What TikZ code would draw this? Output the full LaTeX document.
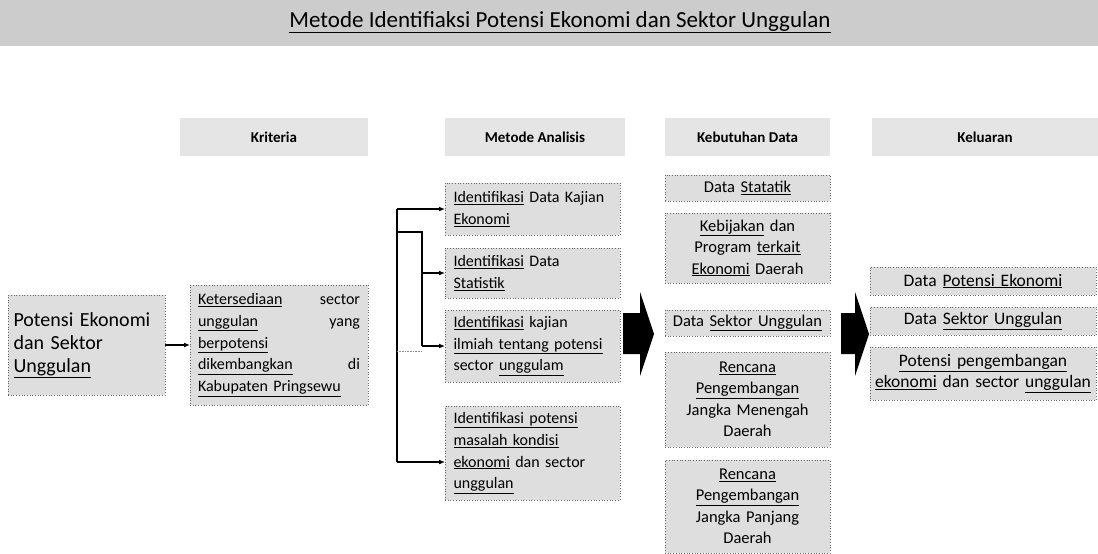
\documentclass[tikz,border=0pt]{standalone}
\usepackage{fontspec}
\setmainfont{Carlito}
\usetikzlibrary{arrows.meta}
\newcommand{\uln}[1]{\underline{#1}}
\definecolor{boxgray}{gray}{0.87}
\definecolor{headgray}{gray}{0.9}
\definecolor{bangray}{gray}{0.8}
\tikzset{
  box/.style={draw=black!60, dotted, line width=0.7pt, fill=boxgray, inner sep=0pt, outer sep=0pt},
  hbox/.style={fill=headgray, inner sep=0pt, outer sep=0pt, font=\bfseries\fontsize{15}{18}\selectfont},
  bodyfont/.style={font=\fontsize{16}{21.7}\selectfont},
  mbox/.style={box, bodyfont, minimum width=175pt, text width=158pt, align=left},
  kbox/.style={box, font=\fontsize{16.5}{21.5}\selectfont, minimum width=165pt, text width=160pt, align=center},
  obox/.style={box, font=\fontsize{17.5}{21}\selectfont, minimum width=226pt, text width=222pt, align=center},
  bline/.style={line width=1.3pt, black},
  conn/.style={line width=1.3pt, black, -{Latex[length=6pt,width=5pt]}},
  faint/.style={line width=0.6pt, black!45, densely dotted},
  bigarrow/.style={fill=black}
}
\begin{document}
\begin{tikzpicture}[x=1pt,y=-1pt]
\useasboundingbox[fill=white] (0,0) rectangle (1098,554);
% title banner
\fill[bangray] (0,0) rectangle (1098,46);
\node[font=\fontsize{23}{26}\selectfont] (title) at (560,22) {\uln{Metode Identifiaksi Potensi Ekonomi dan Sektor Unggulan}};
% headers
\node[hbox, minimum width=188pt, minimum height=38pt] (h1) at (274,137) {Kriteria};
\node[hbox, minimum width=180pt, minimum height=38pt] (h2) at (535,137) {Metode Analisis};
\node[hbox, minimum width=165pt, minimum height=38pt] (h3) at (747.5,137) {Kebutuhan Data};
\node[hbox, minimum width=226pt, minimum height=38pt] (h4) at (985,137) {Keluaran};
% left box
\node[box, font=\fontsize{20}{23}\selectfont, minimum width=157pt, minimum height=100pt, text width=146pt, align=left] (src) at (86.5,345)
  {Potensi Ekonomi\\ dan Sektor\\ \uln{Unggulan}};
% kriteria
\node[box, bodyfont, minimum width=178pt, minimum height=120pt, text width=162pt, align=left] (krit) at (279,345)
  {\uln{Ketersediaan}\hfill sector\\ \uln{unggulan}\hfill yang\\ \uln{berpotensi}\\ \uln{dikembangkan}\hfill di\\ \uln{Kabupaten Pringsewu}};
% metode analisis
\node[mbox, minimum height=52pt] (m1) at (532.5,209) {\uln{Identifikasi} Data Kajian\\ \uln{Ekonomi}};
\node[mbox, minimum height=50pt] (m2) at (532.5,273) {\uln{Identifikasi} Data\\ \uln{Statistik}};
\node[mbox, minimum height=72pt] (m3) at (532.5,346) {\uln{Identifikasi} kajian\\ \uln{ilmiah tentang potensi}\\ sector \uln{unggulam}};
\node[mbox, minimum height=94pt] (m4) at (532.5,453) {\uln{Identifikasi potensi}\\ \uln{masalah kondisi}\\ \uln{ekonomi} dan sector\\ \uln{unggulan}};
% kebutuhan data
\node[kbox, minimum height=26pt] (k1) at (747.5,188) {Data \uln{Statatik}};
\node[kbox, minimum height=70pt] (k2) at (747.5,248) {\uln{Kebijakan} dan\\ Program \uln{terkait}\\ \uln{Ekonomi} Daerah};
\node[kbox, minimum height=26pt] (k3) at (747.5,323) {Data \uln{Sektor Unggulan}};
\node[kbox, minimum height=95pt] (k4) at (747.5,399.5) {\uln{Rencana}\\ \uln{Pengembangan}\\ Jangka Menengah\\ Daerah};
\node[kbox, minimum height=93pt] (k5) at (747.5,506.5) {\uln{Rencana}\\ \uln{Pengembangan}\\ Jangka Panjang\\ Daerah};
% keluaran
\node[obox, minimum height=28pt] (o1) at (983,281) {Data \uln{Potensi Ekonomi}};
\node[obox, minimum height=28pt] (o2) at (983,321) {Data \uln{Sektor Unggulan}};
\node[obox, minimum height=53pt] (o3) at (983,373.5) {\uln{Potensi pengembangan}\\ \uln{ekonomi} dan sector \uln{unggulan}};
% big block arrows
\fill[bigarrow] (623,313) -- (640,313) -- (640,292) -- (654,334) -- (640,376) -- (640,354) -- (623,354) -- cycle;
\fill[bigarrow] (841,313) -- (855,313) -- (855,292) -- (869,334) -- (855,376) -- (855,354) -- (841,354) -- cycle;
% connectors
\draw[conn] (src) -- (krit);
\coordinate (t1) at (397,209);
\coordinate (t4) at (397,462);
\coordinate (j1) at (397,232);
\coordinate (j2) at (422,232);
\coordinate (d1) at (397,351);
\coordinate (d2) at (422,351);
\draw[bline] (t1) -- (t4);
\draw[bline] (j1) -- (j2) -- (j2 |- m3.west);
\draw[conn] (t1) -- (t1 -| m1.west);
\draw[conn] (j2 |- m2.west) -- (m2.west);
\draw[conn] (j2 |- m3.west) -- (m3.west);
\draw[conn] (t4) -- (t4 -| m4.west);
\draw[faint] (d1) -- (d2);
\end{tikzpicture}
\end{document}
